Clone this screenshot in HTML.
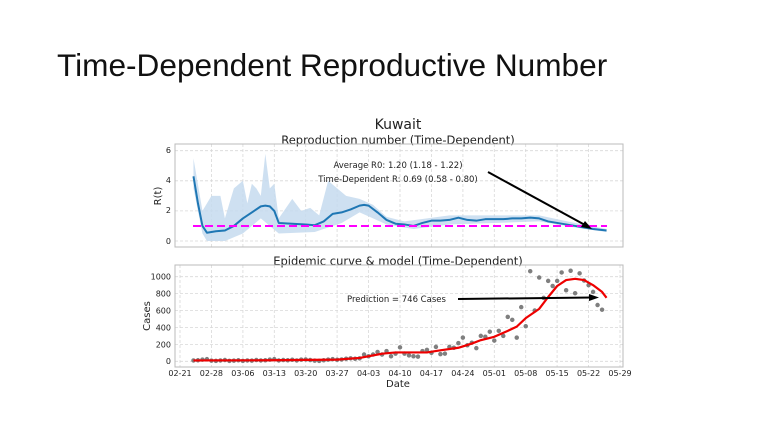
<!DOCTYPE html>
<html><head><meta charset="utf-8"><style>
html,body{margin:0;padding:0;background:#fff;width:768px;height:430px;overflow:hidden}
svg{display:block}
text{font-family:"DejaVu Sans","Liberation Sans",sans-serif;fill:#222}
.g{stroke:#d8d8d8;stroke-width:0.8;stroke-dasharray:3 2}
.t{font-size:8px}
</style></head><body>
<svg width="768" height="430" viewBox="0 0 768 430">
<text x="57" y="76" style="font-family:'Liberation Sans',sans-serif;font-size:31.6px;fill:#111">Time-Dependent Reproductive Number</text>
<text x="398" y="129" text-anchor="middle" font-size="14">Kuwait</text>
<text x="398" y="144" text-anchor="middle" font-size="11.5">Reproduction number (Time-Dependent)</text>
<g class="g">
<line x1="175" y1="150.7" x2="623" y2="150.7"/><line x1="175" y1="180.8" x2="623" y2="180.8"/><line x1="175" y1="210.9" x2="623" y2="210.9"/><line x1="175" y1="241" x2="623" y2="241"/>
<line x1="211.4" y1="144" x2="211.4" y2="247"/><line x1="242.9" y1="144" x2="242.9" y2="247"/><line x1="274.3" y1="144" x2="274.3" y2="247"/><line x1="305.7" y1="144" x2="305.7" y2="247"/><line x1="337.1" y1="144" x2="337.1" y2="247"/><line x1="368.6" y1="144" x2="368.6" y2="247"/><line x1="400" y1="144" x2="400" y2="247"/><line x1="431.4" y1="144" x2="431.4" y2="247"/><line x1="462.9" y1="144" x2="462.9" y2="247"/><line x1="494.3" y1="144" x2="494.3" y2="247"/><line x1="525.7" y1="144" x2="525.7" y2="247"/><line x1="557.1" y1="144" x2="557.1" y2="247"/><line x1="588.6" y1="144" x2="588.6" y2="247"/>
</g>
<rect x="175" y="144" width="448" height="103" fill="none" stroke="#bbb" stroke-width="1"/>
<g transform="translate(180,241) scale(4.49,-15.05)">
<path fill="#c6dbef" fill-opacity="0.85" d="M3 5.5 L5 2 L7 3 L9 3 L10 1.5 L12 3.5 L14 4 L15 2.5 L16 3.8 L17 3.5 L18 3 L19 5.8 L20 3.5 L21 3.8 L22 1.5 L25 2.8 L27 2 L29 2.2 L31 1.7 L33 4 L35 3.5 L37 3 L40 2.8 L43 2.4 L46 1.6 L50 1.3 L55 1.5 L60 1.7 L80 1.7 L88 1.2 L95 0.8 L95 0.6 L88 0.9 L80 1.3 L60 1.1 L52 0.8 L46 1.1 L40 1.9 L36 1.2 L30 0.6 L22 0.5 L18 1.5 L14 0.5 L10 0 L6 0 L5 0.5 L3 3.5 Z"/>
<path fill="none" stroke="#1f77b4" stroke-width="2" vector-effect="non-scaling-stroke" stroke-linejoin="round" d="M3 4.3 L4 2.5 L5 1 L6 0.55 L8 0.65 L10 0.7 L12 1 L14 1.5 L16 1.9 L18 2.3 L19 2.35 L20 2.3 L21 2 L22 1.2 L25 1.15 L28 1.1 L30 1.05 L32 1.3 L34 1.8 L36 1.9 L38 2.1 L40 2.35 L41 2.4 L42 2.35 L44 1.9 L46 1.4 L48 1.15 L50 1.1 L52 1 L54 1.2 L56 1.35 L58 1.35 L60 1.4 L62 1.55 L64 1.4 L66 1.35 L68 1.45 L70 1.45 L72 1.45 L74 1.5 L76 1.5 L78 1.55 L80 1.5 L82 1.3 L84 1.2 L86 1.1 L88 1 L90 0.9 L92 0.8 L95 0.7"/>
</g>
<line x1="193" y1="226" x2="607" y2="226" stroke="#f0f" stroke-width="2" stroke-dasharray="8 4"/>
<g class="t" text-anchor="end">
<text x="171" y="153">6</text><text x="171" y="183">4</text><text x="171" y="213">2</text><text x="171" y="244">0</text>
</g>
<text transform="translate(161,196) rotate(-90)" text-anchor="middle" font-size="10">R(t)</text>
<text x="398" y="168" text-anchor="middle" font-size="8.5">Average R0: 1.20 (1.18 - 1.22)</text>
<text x="398" y="182" text-anchor="middle" font-size="8.5">Time-Dependent R: 0.69 (0.58 - 0.80)</text>
<line x1="488" y1="172" x2="585" y2="225" stroke="#000" stroke-width="2"/>
<path d="M592 229 L581 227 L585 221 Z" fill="#000"/>

<text x="398" y="265" text-anchor="middle" font-size="11.5">Epidemic curve &amp; model (Time-Dependent)</text>
<g class="g">
<line x1="175" y1="276.7" x2="623" y2="276.7"/><line x1="175" y1="293.6" x2="623" y2="293.6"/><line x1="175" y1="310.6" x2="623" y2="310.6"/><line x1="175" y1="327.5" x2="623" y2="327.5"/><line x1="175" y1="344.4" x2="623" y2="344.4"/><line x1="175" y1="361.3" x2="623" y2="361.3"/>
<line x1="180" y1="265" x2="180" y2="367"/><line x1="211.4" y1="265" x2="211.4" y2="367"/><line x1="242.9" y1="265" x2="242.9" y2="367"/><line x1="274.3" y1="265" x2="274.3" y2="367"/><line x1="305.7" y1="265" x2="305.7" y2="367"/><line x1="337.1" y1="265" x2="337.1" y2="367"/><line x1="368.6" y1="265" x2="368.6" y2="367"/><line x1="400" y1="265" x2="400" y2="367"/><line x1="431.4" y1="265" x2="431.4" y2="367"/><line x1="462.9" y1="265" x2="462.9" y2="367"/><line x1="494.3" y1="265" x2="494.3" y2="367"/><line x1="525.7" y1="265" x2="525.7" y2="367"/><line x1="557.1" y1="265" x2="557.1" y2="367"/><line x1="588.6" y1="265" x2="588.6" y2="367"/><line x1="620" y1="265" x2="620" y2="367"/>
</g>
<rect x="175" y="265" width="448" height="102" fill="none" stroke="#bbb" stroke-width="1"/>
<g transform="translate(180,361.3) scale(4.49,-0.0846)">
<path fill="none" stroke="#7f7f7f" stroke-width="4.5" stroke-linecap="round" vector-effect="non-scaling-stroke" d="M3 10l0 0M4 12l0 0M5 20l0 0M6 25l0 0M7 8l0 0M8 5l0 0M9 10l0 0M10 15l0 0M11 5l0 0M12 8l0 0M13 12l0 0M14 5l0 0M15 10l0 0M16 8l0 0M17 15l0 0M18 10l0 0M19 12l0 0M20 20l0 0M21 25l0 0M22 10l0 0M23 15l0 0M24 12l0 0M25 18l0 0M26 10l0 0M27 20l0 0M28 22l0 0M29 15l0 0M30 8l0 0M31 5l0 0M32 12l0 0M33 20l0 0M34 25l0 0M35 18l0 0M36 22l0 0M37 30l0 0M38 35l0 0M39 30l0 0M40 35l0 0M41 80l0 0M42 60l0 0M43 80l0 0M44 110l0 0M45 80l0 0M46 120l0 0M47 60l0 0M48 90l0 0M49 165l0 0M50 90l0 0M51 70l0 0M52 60l0 0M53 55l0 0M54 120l0 0M55 135l0 0M56 100l0 0M57 170l0 0M58 85l0 0M59 90l0 0M60 170l0 0M61 160l0 0M62 215l0 0M63 280l0 0M64 190l0 0M65 220l0 0M66 155l0 0M67 300l0 0M68 290l0 0M69 350l0 0M70 245l0 0M71 360l0 0M72 300l0 0M73 525l0 0M74 490l0 0M75 280l0 0M76 640l0 0M77 415l0 0M78 1065l0 0M79 600l0 0M80 990l0 0M81 750l0 0M82 950l0 0M83 890l0 0M84 950l0 0M85 1050l0 0M86 840l0 0M87 1070l0 0M88 805l0 0M89 1040l0 0M90 955l0 0M91 900l0 0M92 820l0 0M93 665l0 0M94 610l0 0"/>
<path fill="none" stroke="#e00" stroke-width="2.2" stroke-linejoin="round" vector-effect="non-scaling-stroke" d="M3 10 L20 12 L35 20 L40 40 L45 90 L48 105 L55 105 L58 130 L62 160 L65 210 L67 250 L70 290 L73 360 L75 410 L77 510 L80 620 L82 760 L84 890 L86 960 L88 975 L90 960 L92 900 L94 820 L95 750"/>
</g>
<g class="t" text-anchor="end">
<text x="171" y="279.5">1000</text><text x="171" y="296.5">800</text><text x="171" y="313.5">600</text><text x="171" y="330.5">400</text><text x="171" y="347.5">200</text><text x="171" y="364">0</text>
</g>
<g class="t" text-anchor="middle">
<text x="180" y="376">02-21</text><text x="211.4" y="376">02-28</text><text x="242.9" y="376">03-06</text><text x="274.3" y="376">03-13</text><text x="305.7" y="376">03-20</text><text x="337.1" y="376">03-27</text><text x="368.6" y="376">04-03</text><text x="400" y="376">04-10</text><text x="431.4" y="376">04-17</text><text x="462.9" y="376">04-24</text><text x="494.3" y="376">05-01</text><text x="525.7" y="376">05-08</text><text x="557.1" y="376">05-15</text><text x="588.6" y="376">05-22</text><text x="620" y="376">05-29</text>
</g>
<text x="398" y="387" text-anchor="middle" font-size="10">Date</text>
<text transform="translate(150,316) rotate(-90)" text-anchor="middle" font-size="10">Cases</text>
<text x="347" y="302" font-size="8.5">Prediction = 746 Cases</text>
<line x1="458" y1="299" x2="592" y2="297.5" stroke="#000" stroke-width="2"/>
<path d="M599 297.5 L589 294 L589 301 Z" fill="#000"/>
</svg>
</body></html>
